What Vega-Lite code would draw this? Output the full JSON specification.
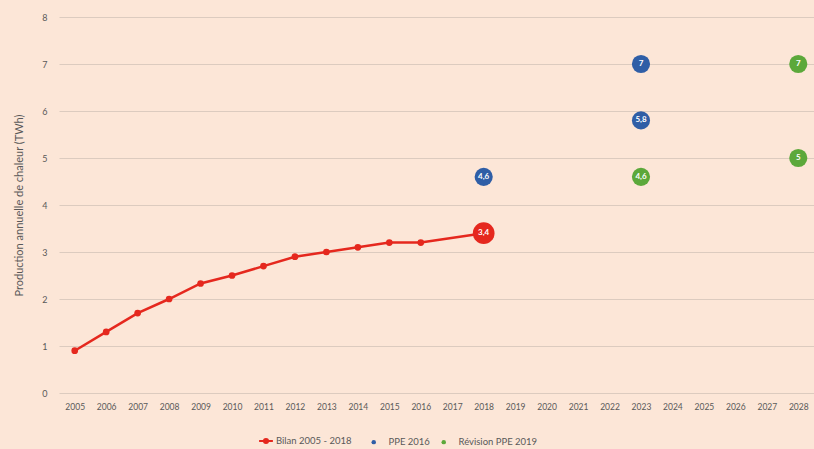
{
  "$schema": "https://vega.github.io/schema/vega-lite/v6.json",
  "width": 755,
  "height": 376,
  "autosize": {"type": "none"},
  "padding": {"left": 59, "top": 17, "right": 0, "bottom": 56},
  "background": "#fce6d7",
  "config": {
    "view": {"stroke": null},
    "font": "Lato",
    "axis": {"labelFont": "Lato", "titleFont": "Lato", "labelColor": "#595959", "titleColor": "#595959"},
    "legend": {"labelFont": "Lato", "labelFontSize": 9.5, "labelColor": "#595959"}
  },
  "data": {
    "values": [
      {"series": "Bilan 2005 - 2018", "year": "2005", "value": 0.9, "label": "", "big": "n"},
      {"series": "Bilan 2005 - 2018", "year": "2006", "value": 1.3, "label": "", "big": "n"},
      {"series": "Bilan 2005 - 2018", "year": "2007", "value": 1.7, "label": "", "big": "n"},
      {"series": "Bilan 2005 - 2018", "year": "2008", "value": 2.0, "label": "", "big": "n"},
      {"series": "Bilan 2005 - 2018", "year": "2009", "value": 2.33, "label": "", "big": "n"},
      {"series": "Bilan 2005 - 2018", "year": "2010", "value": 2.5, "label": "", "big": "n"},
      {"series": "Bilan 2005 - 2018", "year": "2011", "value": 2.7, "label": "", "big": "n"},
      {"series": "Bilan 2005 - 2018", "year": "2012", "value": 2.9, "label": "", "big": "n"},
      {"series": "Bilan 2005 - 2018", "year": "2013", "value": 3.0, "label": "", "big": "n"},
      {"series": "Bilan 2005 - 2018", "year": "2014", "value": 3.1, "label": "", "big": "n"},
      {"series": "Bilan 2005 - 2018", "year": "2015", "value": 3.2, "label": "", "big": "n"},
      {"series": "Bilan 2005 - 2018", "year": "2016", "value": 3.2, "label": "", "big": "n"},
      {"series": "Bilan 2005 - 2018", "year": "2018", "value": 3.4, "label": "3,4", "big": "r"},
      {"series": "PPE 2016", "year": "2018", "value": 4.6, "label": "4,6", "big": "y"},
      {"series": "PPE 2016", "year": "2023", "value": 5.8, "label": "5,8", "big": "y"},
      {"series": "PPE 2016", "year": "2023", "value": 7, "label": "7", "big": "y"},
      {"series": "Révision PPE 2019", "year": "2023", "value": 4.6, "label": "4,6", "big": "y"},
      {"series": "Révision PPE 2019", "year": "2028", "value": 5, "label": "5", "big": "y"},
      {"series": "Révision PPE 2019", "year": "2028", "value": 7, "label": "7", "big": "y"}
    ]
  },
  "encoding": {
    "x": {
      "field": "year", "type": "ordinal",
      "scale": {"domain": ["2005","2006","2007","2008","2009","2010","2011","2012","2013","2014","2015","2016","2017","2018","2019","2020","2021","2022","2023","2024","2025","2026","2027","2028"], "paddingInner": 0, "paddingOuter": 0.5},
      "axis": {"title": null, "labelAngle": 0, "domain": false, "ticks": false, "grid": false, "labelFontSize": 8.5, "labelPadding": 9}
    },
    "y": {
      "field": "value", "type": "quantitative",
      "scale": {"domain": [0, 8]},
      "axis": {"title": "Production annuelle de chaleur (TWh)", "titleFontSize": 11, "titleFontWeight": "normal", "titlePadding": 17, "values": [0,1,2,3,4,5,6,7,8], "domain": false, "ticks": false, "labelFontSize": 9, "labelPadding": 12, "gridColor": "#dccbbf", "gridWidth": 1.2}
    }
  },
  "layer": [
    {
      "transform": [{"filter": "datum.series === 'Bilan 2005 - 2018'"}],
      "mark": {"type": "line", "strokeWidth": 2.5},
      "encoding": {
        "stroke": {
          "field": "series", "type": "nominal",
          "scale": {"domain": ["Bilan 2005 - 2018"], "range": ["#e5281e"]},
          "legend": {
            "title": null, "orient": "none", "direction": "horizontal", "legendX": 199, "legendY": 416,
            "symbolType": "M-1,0H1M0.3,0A0.3,0.3 0 1 1 -0.3,0A0.3,0.3 0 1 1 0.3,0Z",
            "symbolSize": 190, "symbolStrokeWidth": 2, "symbolFillColor": "#e5281e", "labelOffset": 2
          }
        }
      }
    },
    {
      "mark": {"type": "point", "filled": true, "opacity": 1},
      "encoding": {
        "color": {
          "field": "series", "type": "nominal",
          "scale": {"domain": ["Bilan 2005 - 2018", "PPE 2016", "Révision PPE 2019"], "range": ["#e5281e", "#2f5ea6", "#5ca83a"]},
          "legend": {
            "title": null, "orient": "none", "direction": "horizontal", "legendX": 310, "legendY": 420,
            "values": ["PPE 2016", "Révision PPE 2019"],
            "symbolSize": 20, "columnPadding": 9, "labelOffset": 10, "symbolType": "circle"
          }
        },
        "size": {
          "condition": [
            {"test": "datum.big === 'r'", "value": 470},
            {"test": "datum.big === 'y'", "value": 330}
          ],
          "value": 45
        }
      }
    },
    {
      "mark": {"type": "text", "color": "white", "fontWeight": "bold", "fontSize": 8, "baseline": "middle", "align": "center"},
      "encoding": {"text": {"field": "label"}}
    }
  ]
}
